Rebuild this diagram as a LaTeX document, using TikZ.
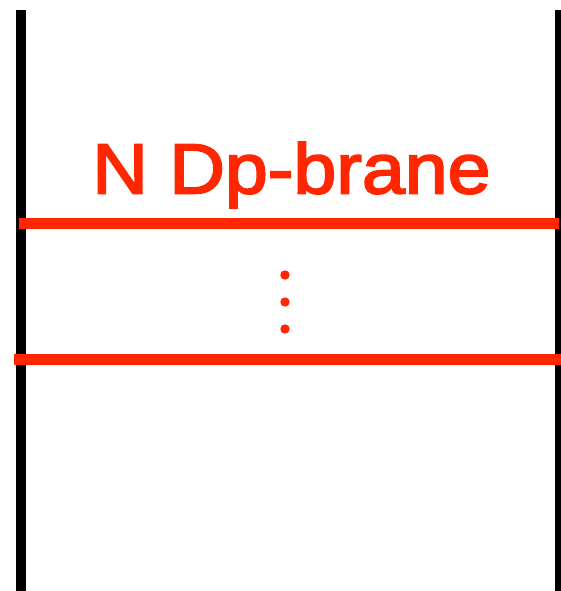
\documentclass[tikz,border=0pt]{standalone}
\usepackage{fontspec}
\setmainfont{Liberation Sans}
\newfontfamily\labelfont[FakeBold=2.8,FakeStretch=1.09]{Liberation Sans}
\definecolor{branered}{RGB}{255,38,0}
\begin{document}
\begin{tikzpicture}[x=1pt,y=-1pt,
  wall/.style={line width=10.5pt,black},
  brane/.style={line width=10.5pt,branered},
  dot/.style={fill=branered}]
\useasboundingbox (0,0) rectangle (561,591);
% two vertical walls
\draw[wall] (21,10.5) -- (21,600);
\draw[wall] (560,10.5) -- (560,600);
% stack of branes
\draw[brane] (19,223.5) -- (559,223.5);
\draw[brane] (14,359.5) -- (570,359.5);
\fill[dot] (285,275) circle (4.7);
\fill[dot] (285,302) circle (4.7);
\fill[dot] (285,329) circle (4.7);
% label
\node[anchor=base,inner sep=0pt,text=branered,font=\labelfont\fontsize{70.7}{70.7}\selectfont] (lbl) at (291.5,193.3) {N Dp-brane};
\end{tikzpicture}
\end{document}
